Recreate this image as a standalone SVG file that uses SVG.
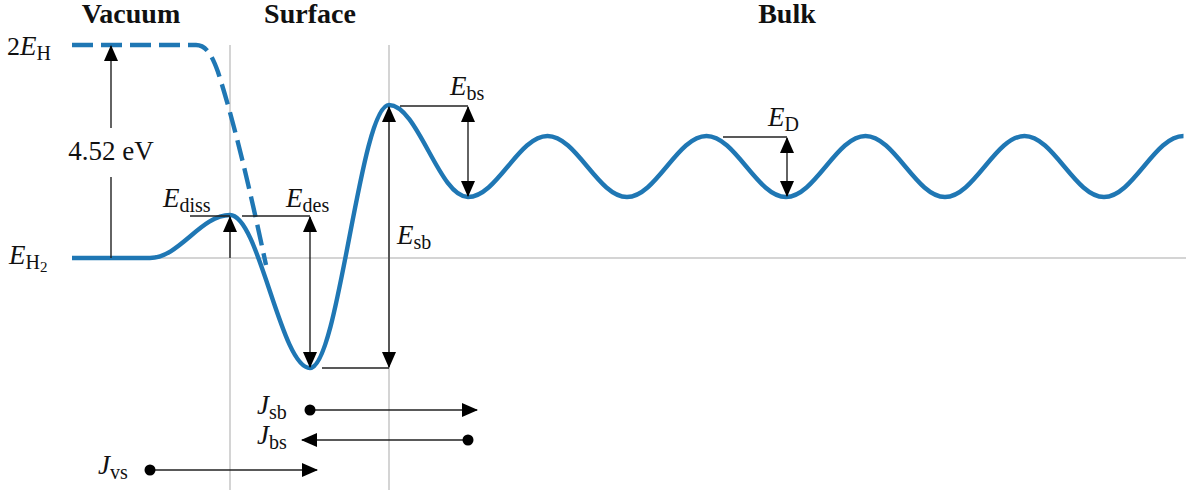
<svg xmlns="http://www.w3.org/2000/svg" width="1192" height="490" viewBox="0 0 1192 490">
<style>
.grid{stroke:#d4d4d4;stroke-width:2;fill:none}
.curve{stroke:#1f77b4;stroke-width:4.4;fill:none;stroke-linejoin:round}
.dash{stroke:#1f77b4;stroke-width:4.4;fill:none;stroke-dasharray:21 8}
.ln{stroke:#222;stroke-width:1.4;fill:none}
.arr{stroke:#222;stroke-width:1.4;fill:none;marker-end:url(#ah)}
.arr2{stroke:#222;stroke-width:1.4;fill:none;marker-end:url(#ah);marker-start:url(#ah)}
text{font-family:"Liberation Serif","DejaVu Serif",serif;font-size:26px;fill:#111}
.b{font-weight:bold;font-size:28px}
.i{font-style:italic;font-size:27px}
.s{font-size:20px}
.ss{font-size:15px}
</style>
<defs>
<marker id="ah" markerUnits="userSpaceOnUse" markerWidth="16" markerHeight="14" refX="15" refY="7" orient="auto-start-reverse" viewBox="0 0 16 14">
<path d="M0,0 L16,7 L0,14 z" fill="#000"/>
</marker>
</defs>
<g id="grid">
<line class="grid" x1="72" y1="258" x2="1186" y2="258"/>
<line class="grid" x1="230" y1="45" x2="230" y2="490"/>
<line class="grid" x1="389" y1="45" x2="389" y2="490"/>
</g>
<g id="headers">
<text class="b" x="131" y="23" text-anchor="middle">Vacuum</text>
<text class="b" x="310" y="23" text-anchor="middle">Surface</text>
<text class="b" x="787" y="23" text-anchor="middle">Bulk</text>
</g>
<g id="potential">
<path class="dash" d="M72,45 L196,45 C206,45 212,55 218,72 C235,125 250,190 266,265"/>
<path class="curve" d="M72,258 H150 C179.1,258 200.9,215 230,215 C259.1,215 280.9,368 310,368 C338.8,368 360.2,105 389,105 C417.8,105 439.2,197 468,197 C496.9,197 518.6,136 547.5,136 S598.1,197 627,197 S677.6,136 706.5,136 S757.1,197 786,197 S836.6,136 865.5,136 S916.1,197 945,197 S995.6,136 1024.5,136 S1075.1,197 1104,197 S1154.6,136 1183.5,136"/>
</g>
<g id="connectors">
<line class="ln" x1="111" y1="258" x2="111" y2="177"/>
<line class="arr" x1="111" y1="128" x2="111" y2="46"/>
<line class="ln" x1="190" y1="216" x2="230" y2="216"/>
<line class="arr" x1="230" y1="258" x2="230" y2="217"/>
<line class="ln" x1="242" y1="216" x2="310" y2="216"/>
<line class="arr2" x1="310" y1="217" x2="310" y2="367"/>
<line class="ln" x1="322" y1="368" x2="389" y2="368"/>
<line class="arr2" x1="389" y1="107" x2="389" y2="367"/>
<line class="ln" x1="400" y1="106" x2="468" y2="106"/>
<line class="arr2" x1="468" y1="107" x2="468" y2="196"/>
<line class="ln" x1="723" y1="137" x2="787" y2="137"/>
<line class="arr2" x1="787" y1="138" x2="787" y2="196"/>
<line class="arr" x1="310" y1="410" x2="477" y2="410"/>
<circle cx="310" cy="410" r="5.5" fill="#000"/>
<line class="arr" x1="468" y1="440" x2="302" y2="440"/>
<circle cx="468" cy="440" r="5.5" fill="#000"/>
<line class="arr" x1="150" y1="470" x2="317" y2="470"/>
<circle cx="150" cy="470" r="5.5" fill="#000"/>
</g>
<g id="labels">
<text x="7" y="55">2<tspan class="i">E</tspan><tspan class="s" dy="5">H</tspan></text>
<text x="111" y="160" text-anchor="middle" style="font-size:27px">4.52 eV</text>
<text x="9" y="264"><tspan class="i">E</tspan><tspan class="s" dy="5">H</tspan><tspan class="ss" dy="3">2</tspan></text>
<text x="163" y="207"><tspan class="i">E</tspan><tspan class="s" dy="5">diss</tspan></text>
<text x="286" y="207"><tspan class="i">E</tspan><tspan class="s" dy="5">des</tspan></text>
<text x="397" y="244"><tspan class="i">E</tspan><tspan class="s" dy="5">sb</tspan></text>
<text x="450" y="95"><tspan class="i">E</tspan><tspan class="s" dy="5">bs</tspan></text>
<text x="768" y="126"><tspan class="i">E</tspan><tspan class="s" dy="5">D</tspan></text>
<text x="257" y="414"><tspan class="i">J</tspan><tspan class="s" dy="5">sb</tspan></text>
<text x="257" y="444"><tspan class="i">J</tspan><tspan class="s" dy="5">bs</tspan></text>
<text x="98" y="474"><tspan class="i">J</tspan><tspan class="s" dy="5">vs</tspan></text>
</g>
</svg>
